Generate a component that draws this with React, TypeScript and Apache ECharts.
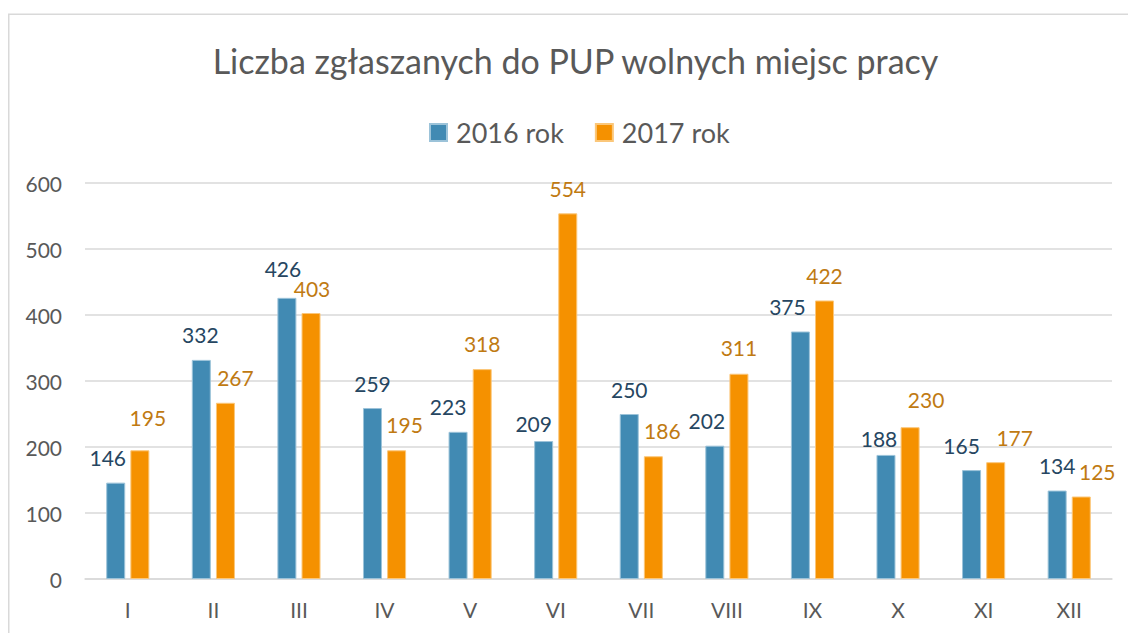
import React, { useEffect, useRef } from "react";
import * as echarts from "echarts";

const TITLE = "Liczba zgłaszanych do PUP wolnych miejsc pracy";
const months = ["I", "II", "III", "IV", "V", "VI", "VII", "VIII", "IX", "X", "XI", "XII"];
const seriesNames = ["2016 rok", "2017 rok"];
const values2016 = [146, 332, 426, 259, 223, 209, 250, 202, 375, 188, 165, 134];
const values2017 = [195, 267, 403, 195, 318, 554, 186, 311, 422, 230, 177, 125];
const yTicks = { min: 0, max: 600, interval: 100 };

// label nudges (style only, in px)
const nudge2016 = [[-8, 0], [-1, 0], [-4, -4], [0, 0], [-10, 0], [-10, 7], [0, 0], [-8, 0], [-13, 0], [-7, 9], [-10, 0], [0, 0]];
const nudge2017 = [[8, -8], [10, 0], [1, 0], [8, -1], [0, -1], [0, 0], [9, -1], [0, -1], [0, 0], [16, -3], [19, 0], [16, 0]];

const FONT = "Lato";
const BLUE = "#418AB3";
const ORANGE = "#F59100";

export default function App() {
  const ref = useRef<HTMLDivElement>(null);
  useEffect(() => {
    if (!ref.current) return;
    const chart = echarts.init(ref.current, null, { renderer: "svg" });
    const mk = (vals: number[], nudges: number[][]) =>
      vals.map((v, i) => ({ value: v, label: { offset: nudges[i] } }));
    const labelBase = {
      show: true,
      position: "top",
      distance: 15,
      fontFamily: FONT,
      fontSize: 21,
      lineHeight: 20,
    };
    chart.setOption({
      animation: false,
      backgroundColor: "#ffffff",
      textStyle: { fontFamily: FONT },
      graphic: [
        {
          type: "rect",
          z: -10,
          shape: { x: 8.75, y: 14.25, width: 1200, height: 700 },
          style: { fill: "none", stroke: "#d9d9d9", lineWidth: 1.5 },
        },
        {
          type: "text",
          x: 575.5,
          y: 60,
          style: {
            text: TITLE,
            fontFamily: FONT,
            fontSize: 34,
            fill: "#595959",
            textAlign: "center",
            textVerticalAlign: "middle",
          },
        },
      ],
      legend: {
        left: 424,
        top: 114,
        icon: "rect",
        itemWidth: 17,
        itemHeight: 17,
        itemGap: 31,
        textStyle: { fontFamily: FONT, fontSize: 27, color: "#595959", padding: [0, 0, 0, 4] },
        data: seriesNames,
      },
      grid: { left: 85, right: 16, top: 183, bottom: 54, containLabel: false },
      xAxis: {
        type: "category",
        data: months,
        axisLine: { lineStyle: { color: "#d9d9d9", width: 1.5 } },
        axisTick: { show: false },
        axisLabel: { fontFamily: FONT, fontSize: 21, color: "#595959", margin: 20 },
      },
      yAxis: {
        type: "value",
        min: yTicks.min,
        max: yTicks.max,
        interval: yTicks.interval,
        axisLine: { show: false },
        axisTick: { show: false },
        splitLine: { lineStyle: { color: "#d9d9d9", width: 1.5 } },
        axisLabel: { fontFamily: FONT, fontSize: 21, color: "#595959", margin: 23 },
      },
      series: [
        {
          name: seriesNames[0],
          type: "bar",
          barWidth: 19,
          barGap: "27%",
          data: mk(values2016, nudge2016),
          itemStyle: { color: BLUE, borderColor: "#9cc3d9", borderWidth: 1 },
          label: { ...labelBase, color: "#264661" },
        },
        {
          name: seriesNames[1],
          type: "bar",
          barWidth: 19,
          barGap: "27%",
          data: mk(values2017, nudge2017),
          itemStyle: { color: ORANGE, borderColor: "#fbc77a", borderWidth: 1 },
          label: { ...labelBase, color: "#C07A12" },
        },
      ],
    });
    return () => chart.dispose();
  }, []);
  return (
    <div
      ref={ref}
      style={{ position: "fixed", left: 0, top: 0, width: 1128, height: 633, background: "#fff" }}
    />
  );
}
